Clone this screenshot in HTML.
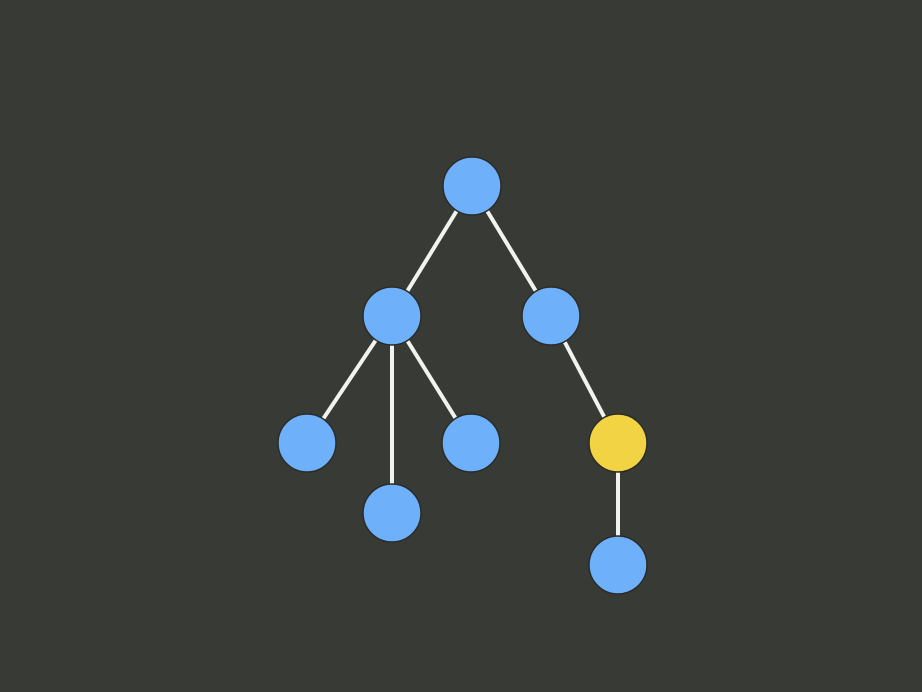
<!DOCTYPE html>
<html><head><meta charset="utf-8"><style>
html,body{margin:0;padding:0;background:#383a35;}
svg{display:block}
</style></head><body>
<svg id="chart" width="922" height="692" viewBox="0 0 922 692">
<rect width="922" height="692" fill="#383a35"/>
<g id="edges"></g>
<g id="nodes"></g>
</svg>
<script>
const nodeIds = ["root","a","b","a1","a2","a3","b1","b1a"];
const nodeX = [472,392,551,307,392,471,618,618];
const nodeY = [186,316,316,443,513,443,443,565];
const nodeHighlight = [0,0,0,0,0,0,1,0];
const links = [["root","a"],["root","b"],["a","a1"],["a","a2"],["a","a3"],["b","b1"],["b1","b1a"]];
const ns="http://www.w3.org/2000/svg";
const eg=document.getElementById('edges'), ng=document.getElementById('nodes');
function idx(id){return nodeIds.indexOf(id);}
links.forEach(l=>{
  const s=idx(l[0]), t=idx(l[1]);
  const ln=document.createElementNS(ns,'line');
  ln.setAttribute('x1',nodeX[s]);ln.setAttribute('y1',nodeY[s]);
  ln.setAttribute('x2',nodeX[t]);ln.setAttribute('y2',nodeY[t]);
  ln.setAttribute('stroke','#f2f2ee');ln.setAttribute('stroke-width','4');
  
  
  eg.appendChild(ln);
});
nodeIds.forEach((id,i)=>{
  const c=document.createElementNS(ns,'circle');
  c.setAttribute('cx',nodeX[i]);c.setAttribute('cy',nodeY[i]);c.setAttribute('r',29);
  c.setAttribute('fill',nodeHighlight[i]?'#f1d343':'#6eb0fa');
  c.setAttribute('stroke','#2a2c28');c.setAttribute('stroke-width','1.5');
  
  
  ng.appendChild(c);
});
</script>
</body></html>
